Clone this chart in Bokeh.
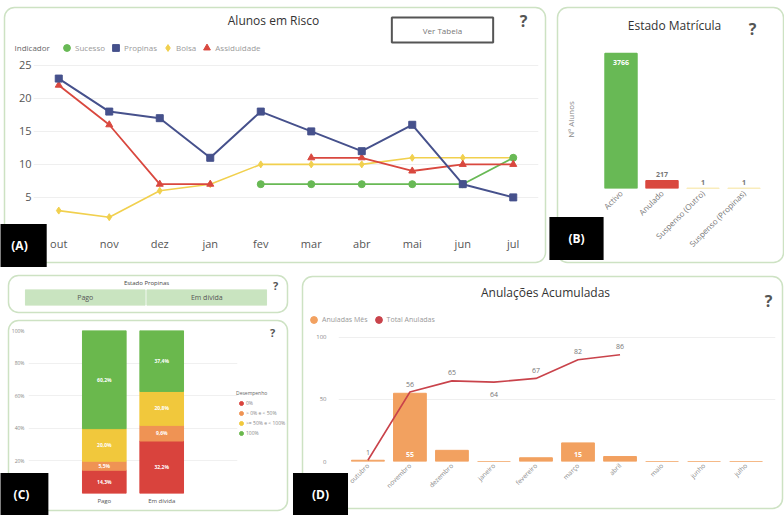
import math
from bokeh.plotting import figure
from bokeh.models import (ColumnDataSource, FactorRange, Range1d, Legend, LegendItem,
                          Label, FixedTicker, PrintfTickFormatter)
from bokeh.layouts import row, column
from bokeh.embed import file_html
from bokeh.resources import INLINE
from bokeh.core.properties import value

nan = float("nan")
FONT = "Open Sans"

# ---- Alunos em Risco (por mês) ----
meses = ["out", "nov", "dez", "jan", "fev", "mar", "abr", "mai", "jun", "jul"]
sucesso = [nan, nan, nan, nan, 7, 7, 7, 7, 7, 11]
propinas = [23, 18, 17, 11, 18, 15, 12, 16, 7, 5]
bolsa = [3, 2, 6, 7, 10, 10, 10, 11, 11, 11]
assiduidade = [22, 16, 7, 7, nan, 11, 11, 9, 10, 10]

# ---- Estado Matrícula ----
estados = ["Activo", "Anulado", "Suspenso (Outro)", "Suspenso (Propinas)"]
n_alunos = [3766, 217, 1, 1]

# ---- Desempenho por estado de propinas (%) ----
estado_propinas = ["Pago", "Em dívida"]
desempenho = ["0%", "> 0% e < 50%", ">= 50% e < 100%", "100%"]
pct_pago = [14.3, 5.5, 20.0, 60.2]
pct_divida = [32.2, 9.6, 20.8, 37.4]

# ---- Anulações Acumuladas ----
meses_longos = ["outubro", "novembro", "dezembro", "janeiro", "fevereiro",
                "março", "abril", "maio", "junho", "julho"]
anuladas_mes = [1, 55, 9, 0, 3, 15, 4, 0, 0, 0]
total_anuladas = [1, 56, 65, 64, 67, 82, 86, nan, nan, nan]

GREEN = "#68b955"
BLUE = "#46518c"
YELLOW = "#f1d04e"
RED = "#d9483f"
ORANGE_D = "#f2a160"
RED_D = "#c9434b"
CORES_C = ["#d9433d", "#ef9354", "#f1c83c", "#6ab84d"]


def make_panel(width, height, margin, left, right, top, bottom, **kw):
    p = figure(width=width, height=height, margin=margin, output_backend="svg",
               toolbar_location=None, min_border_left=left, min_border_right=right,
               min_border_top=top, min_border_bottom=bottom, **kw)
    p.outline_line_color = None
    p.border_fill_color = None
    p.background_fill_color = None
    return p


def style_axis(ax, size, color="#666666"):
    ax.axis_line_color = None
    ax.major_tick_line_color = None
    ax.minor_tick_line_color = None
    ax.major_tick_out = 0
    ax.major_tick_in = 0
    ax.major_label_text_font = FONT
    ax.major_label_text_font_size = size
    ax.major_label_text_color = color


# ================= (A) Alunos em Risco =================
pa = make_panel(541, 255, (7, 0, 0, 4), 29, 7, 46, 37,
                x_range=FactorRange(*meses), y_range=Range1d(0.74, 26.8))
src_a = ColumnDataSource(dict(mes=meses, sucesso=sucesso, propinas=propinas,
                              bolsa=bolsa, assiduidade=assiduidade))
pa.line("mes", "bolsa", source=src_a, color=YELLOW, line_width=1.6)
pa.scatter("mes", "bolsa", source=src_a, marker="diamond", size=7, color=YELLOW)
pa.line("mes", "sucesso", source=src_a, color=GREEN, line_width=1.8)
pa.scatter("mes", "sucesso", source=src_a, marker="circle", size=7, color=GREEN)
pa.line("mes", "assiduidade", source=src_a, color=RED, line_width=1.8)
pa.scatter("mes", "assiduidade", source=src_a, marker="triangle", size=7, color=RED)
pa.line("mes", "propinas", source=src_a, color=BLUE, line_width=2)
pa.scatter("mes", "propinas", source=src_a, marker="square", size=7, color=BLUE)

style_axis(pa.xaxis, "11px", "#555555")
style_axis(pa.yaxis, "11px", "#555555")
pa.xaxis.major_label_standoff = 10
pa.yaxis.major_label_standoff = 2
pa.yaxis.ticker = FixedTicker(ticks=[5, 10, 15, 20, 25])
pa.xgrid.grid_line_color = None
pa.ygrid.grid_line_color = "#efefef"

# ================= (B) Estado Matrícula =================
pb = make_panel(226, 255, (7, 0, 0, 12), 43, 19, 43, 74,
                x_range=FactorRange(*estados), y_range=Range1d(0, 3850))
cores_b = [GREEN, RED, "#f3da7a", "#f3da7a"]
src_b = ColumnDataSource(dict(
    estado=estados, n=n_alunos, cor=cores_b,
    txt=[str(v) for v in n_alunos],
    txt_cor=["white", "#777777", "#777777", "#777777"],
    dy=[9, -6, -6, -6]))
pb.vbar(x="estado", top="n", width=0.78, source=src_b, fill_color="cor",
        line_color="cor", line_width=1.5)
pb.text(x="estado", y="n", text="txt", source=src_b, text_color="txt_cor",
        y_offset="dy", text_align="center", text_baseline="middle",
        text_font=value(FONT), text_font_size="7px", text_font_style="bold")
style_axis(pb.xaxis, "8px", "#777777")
pb.xaxis.major_label_orientation = math.pi / 4
pb.xaxis.major_label_standoff = 3
style_axis(pb.yaxis, "1px")
pb.yaxis.ticker = FixedTicker(ticks=[])
pb.yaxis.major_label_standoff = 0
pb.yaxis.axis_label = "Nº Alunos"
pb.yaxis.axis_label_text_font = FONT
pb.yaxis.axis_label_text_font_size = "8px"
pb.yaxis.axis_label_text_font_style = "normal"
pb.yaxis.axis_label_text_color = "#888888"
pb.yaxis.axis_label_standoff = 25
pb.grid.grid_line_color = None

# ================= (C) Estado Propinas (segmentação) =================
ps = make_panel(280, 37, (13, 0, 0, 8), 16, 21, 14, 7,
                x_range=FactorRange(*estado_propinas), y_range=Range1d(0, 1))
src_s = ColumnDataSource(dict(estado=estado_propinas, h=[1, 1]))
ps.vbar(x="estado", top="h", width=0.985, source=src_s, color="#c9e4c0")
ps.text(x="estado", y=0.5, text="estado", source=src_s, text_align="center",
        text_baseline="middle", text_font=value(FONT), text_font_size="7px",
        text_color="#555555")
ps.axis.visible = False
ps.grid.grid_line_color = None

# ================= (C) Desempenho (100% empilhado) =================
pc = make_panel(280, 190, (8, 0, 0, 8), 20, 51, 10, 17,
                x_range=FactorRange(*estado_propinas, range_padding=0.82,
                                    range_padding_units="absolute"),
                y_range=Range1d(0, 100))
dados_c = {"estado": estado_propinas}
for i, d in enumerate(desempenho):
    dados_c[d] = [pct_pago[i], pct_divida[i]]
src_c = ColumnDataSource(dados_c)
pc.vbar_stack(desempenho, x="estado", width=0.76, color=CORES_C, source=src_c)

seg_x, seg_y, seg_t = [], [], []
for est, vals in zip(estado_propinas, [pct_pago, pct_divida]):
    acc = 0.0
    for v in vals:
        seg_x.append(est)
        seg_y.append(acc + v / 2)
        seg_t.append(f"{v:.1f}%".replace(".", ","))
        acc += v
pc.text(x=seg_x, y=seg_y, text=seg_t, text_align="center", text_baseline="middle",
        text_font=value(FONT), text_font_size="5px", text_color="white",
        text_font_style="bold")
style_axis(pc.xaxis, "6px", "#555555")
pc.xaxis.major_label_standoff = 3
style_axis(pc.yaxis, "5px", "#888888")
pc.yaxis.ticker = FixedTicker(ticks=[0, 20, 40, 60, 80, 100])
pc.yaxis.formatter = PrintfTickFormatter(format="%d%%")
pc.yaxis.major_label_standoff = 4
pc.xgrid.grid_line_color = None
pc.ygrid.grid_line_color = "#f0f0f0"

# ================= (D) Anulações Acumuladas =================
pd_ = make_panel(480, 232, (14, 0, 0, 14), 36, 7, 56, 47,
                 x_range=FactorRange(*meses_longos, range_padding=0.2,
                                     range_padding_units="absolute"),
                 y_range=Range1d(0, 104))
src_d = ColumnDataSource(dict(mes=meses_longos, mensal=anuladas_mes, total=total_anuladas,
                              txt=["" if math.isnan(v) else str(int(v)) for v in total_anuladas],
                              dy=[-8, -8, -8, 12, -8, -8, -8, -8, -8, -8]))
pd_.vbar(x="mes", top="mensal", width=0.78, source=src_d, color=ORANGE_D)
pd_.line(x="mes", y="total", source=src_d, color=RED_D, line_width=1.6)
pd_.text(x="mes", y="total", text="txt", source=src_d, y_offset="dy",
         text_align="center", text_baseline="middle", text_font=value(FONT),
         text_font_size="7px", text_color="#777777")
grandes = [(m, v) for m, v in zip(meses_longos, anuladas_mes) if v >= 10]
pd_.text(x=[m for m, _ in grandes], y=[0] * len(grandes), text=[str(v) for _, v in grandes],
         y_offset=-7, text_align="center", text_baseline="middle", text_font=value(FONT),
         text_font_size="7px", text_color="white", text_font_style="bold")
style_axis(pd_.xaxis, "6.5px", "#888888")
pd_.xaxis.major_label_orientation = math.pi / 4
pd_.xaxis.major_label_standoff = 3
style_axis(pd_.yaxis, "6px", "#888888")
pd_.yaxis.ticker = FixedTicker(ticks=[0, 50, 100])
pd_.yaxis.major_label_standoff = 12
pd_.xgrid.grid_line_color = None
pd_.ygrid.grid_line_color = "#efefef"

# ================= moldura do painel (cartões, títulos, legendas, etiquetas) =================
W, H = 784, 515
ov = figure(width=W, height=H, margin=(-510, 0, 0, 0), output_backend="svg",
            toolbar_location=None, x_range=Range1d(0, W), y_range=Range1d(H, 0),
            x_axis_type=None, y_axis_type=None, min_border=0)
ov.outline_line_color = None
ov.border_fill_color = None
ov.background_fill_color = None
ov.grid.visible = False

cartoes = dict(esq=[4, 557, 8, 8, 302], dir=[545, 783, 287, 287, 782],
               cima=[7, 7, 275, 320, 276], baixo=[262, 262, 312, 510, 508])
ov.quad(left="esq", right="dir", top="cima", bottom="baixo",
        source=ColumnDataSource(cartoes), fill_color=None, line_color="#cde2c3",
        line_width=1.5, border_radius=10)


def chave(marker, color):
    """Legend key: a single scatter point kept outside the visible canvas."""
    return ov.scatter(x=[-50], y=[-50], marker=marker, size=7, color=color)


def legenda(items, x, y_top, h, **kw):
    opts = dict(location=(x, H - y_top - h), background_fill_alpha=0,
                border_line_color=None, padding=0, margin=0, label_text_font=FONT,
                title_text_font=FONT, title_text_font_style="normal")
    opts.update(kw)
    ov.add_layout(Legend(items=[LegendItem(label=l, renderers=[r]) for l, r in items], **opts))


legenda([("Sucesso", chave("circle", GREEN)), ("Propinas", chave("square", BLUE)),
         ("Bolsa", chave("diamond", YELLOW)), ("Assiduidade", chave("triangle", RED))],
        58, 38.5, 17, orientation="horizontal", spacing=2, label_standoff=0,
        glyph_width=17, glyph_height=17, label_height=17,
        label_text_font_size="8px", label_text_color="#9a9a9a")

legenda([(d, chave("circle", c)) for d, c in zip(desempenho, CORES_C)],
        236, 390, 48, title="Desempenho", orientation="vertical", spacing=0,
        label_standoff=0, glyph_width=10, glyph_height=10, label_height=10,
        label_text_font_size="5px", label_text_color="#888888",
        title_text_font_size="5px", title_text_color="#666666", title_standoff=2)

legenda([("Anuladas Mês", chave("circle", ORANGE_D)),
         ("Total Anuladas", chave("circle", RED_D))],
        305, 310.5, 17, orientation="horizontal", spacing=2, label_standoff=0,
        glyph_width=17, glyph_height=17, label_height=17,
        label_text_font_size="7px", label_text_color="#999999")


def put(x, y, text, **kw):
    opts = dict(text_font=FONT, text_align="center", text_baseline="middle")
    opts.update(kw)
    ov.add_layout(Label(x=x, y=y, text=text, **opts))


def titulo(x, y, text):
    put(x, y, text, text_font_size="12px", text_color="#333333")


def qmark(x, y, size="16px"):
    put(x, y, "?", text_color="#555555", text_font_style="bold", text_font_size=size)


def badge(x, y, text):
    put(x, y, text, text_color="white", text_font_style="bold", text_font_size="12px",
        background_fill_color="black", padding=dict(left=19, right=19, top=13, bottom=13))


put(14, 47, "Indicador", text_align="left", text_font_size="8px", text_color="#666666")
titulo(273, 20, "Alunos em Risco")
put(442, 29.5, "Ver Tabela", text_font_size="8px", text_color="#777777",
    border_line_color="#555555", border_line_width=2,
    padding=dict(left=31, right=31, top=7, bottom=7))
qmark(523, 20)
titulo(674, 25, "Estado Matrícula")
qmark(752, 28)
put(146, 282, "Estado Propinas", text_font_size="6px", text_color="#444444")
qmark(275, 285, "11px")
qmark(272, 332, "11px")
titulo(545, 292, "Anulações Acumuladas")
qmark(768, 300)
badge(19, 245, "(A)")
badge(576, 238, "(B)")
badge(21, 494, "(C)")
badge(320, 494, "(D)")

# ================= layout =================
topo = row(column(pa), column(pb), spacing=0)
esquerda = column(column(ps), column(pc), spacing=0)
base = row(esquerda, column(pd_), spacing=0)
graficos = column(topo, base, spacing=0)
root = column(graficos, ov, spacing=0)

open("out.html", "w").write(file_html(root, INLINE, title="Painel"))
